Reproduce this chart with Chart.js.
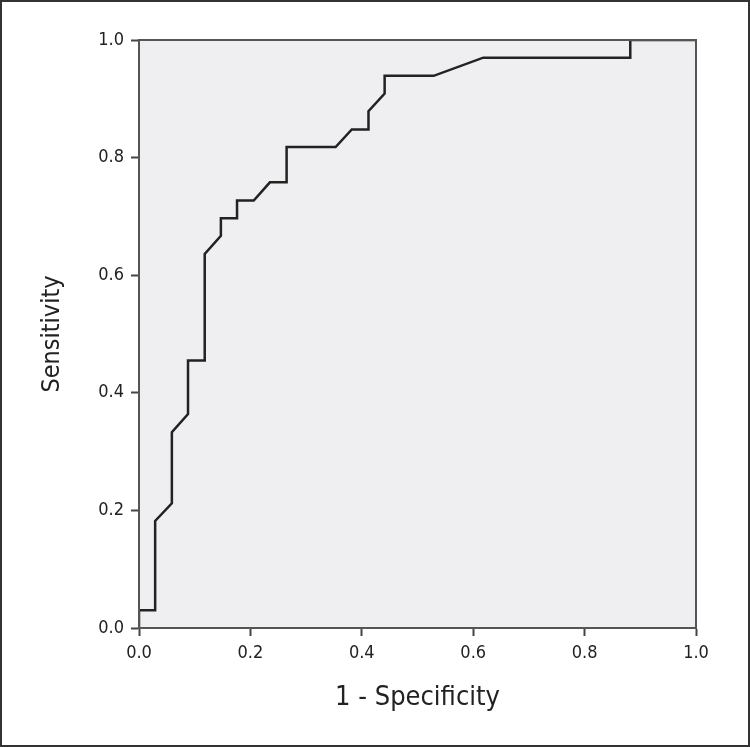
<!DOCTYPE html>
<html>
<head>
<meta charset="utf-8">
<script src="https://cdn.jsdelivr.net/npm/chart.js@4"></script>
<style>
  html, body { margin: 0; padding: 0; background: #fff; }
  #wrap { width: 750px; height: 747px; position: relative; }
</style>
</head>
<body>
<div id="wrap"><canvas id="myChart" width="750" height="747"></canvas></div>
<script>
// ROC curve (1 - specificity, sensitivity)
var fpr = [0, 0, 0.029, 0.029, 0.059, 0.059, 0.088, 0.088, 0.118, 0.118, 0.147, 0.147, 0.176, 0.176, 0.206, 0.235, 0.265, 0.265, 0.353, 0.382, 0.412, 0.412, 0.441, 0.441, 0.529, 0.618, 0.882, 0.882, 1.0];
var sens = [0, 0.030, 0.030, 0.182, 0.212, 0.333, 0.364, 0.455, 0.455, 0.636, 0.667, 0.697, 0.697, 0.727, 0.727, 0.758, 0.758, 0.818, 0.818, 0.848, 0.848, 0.879, 0.909, 0.939, 0.939, 0.970, 0.970, 1.0, 1.0];
var tickVals = [0, 0.2, 0.4, 0.6, 0.8, 1.0];

var fontFam = "'Liberation Sans Narrow', 'DejaVu Sans Condensed', 'Roboto', sans-serif";

var puntos = [];
for (let i = 0; i < fpr.length; i++) {
    puntos.push({ x: fpr[i], y: sens[i] });
}

var fondo = {
    id: 'fondo',
    beforeDraw: function (chart) {
        var ctx = chart.ctx;
        var a = chart.chartArea;
        ctx.save();
        ctx.fillStyle = '#ffffff';
        ctx.fillRect(0, 0, chart.width, chart.height);
        ctx.fillStyle = '#efeff1';
        ctx.fillRect(a.left, a.top, a.right - a.left, a.bottom - a.top);
        ctx.restore();
    },
    afterDraw: function (chart) {
        var ctx = chart.ctx;
        var a = chart.chartArea;
        ctx.save();
        ctx.strokeStyle = '#555';
        ctx.lineWidth = 2;
        ctx.strokeRect(a.left, a.top, a.right - a.left, a.bottom - a.top);
        ctx.strokeStyle = '#333';
        ctx.lineWidth = 2;
        ctx.strokeRect(1, 1, chart.width - 2, chart.height - 2);
        ctx.restore();
    }
};

var ctx = document.getElementById('myChart').getContext('2d');
var myChart = new Chart(ctx, {
    type: 'scatter',
    data: {
        datasets: [{
            data: puntos,
            showLine: true,
            borderColor: '#222222',
            borderWidth: 2.5,
            pointRadius: 0,
            tension: 0,
            fill: false
        }]
    },
    options: {
        responsive: false,
        animation: false,
        layout: { padding: { left: 0, top: 40, right: 54, bottom: 0 } },
        plugins: { legend: { display: false }, tooltip: { enabled: false } },
        scales: {
            x: {
                type: 'linear', min: 0, max: 1,
                afterBuildTicks: function (s) { s.ticks = tickVals.map(function (v) { return { value: v }; }); },
                afterFit: function (s) { s.height = 119; },
                ticks: {
                    callback: function (v) { return v.toFixed(1); },
                    color: '#222', font: { family: fontFam, size: 18 }, padding: 7
                },
                grid: { drawOnChartArea: false, tickLength: 8, tickColor: '#444', tickWidth: 2 },
                border: { color: '#555', width: 2 },
                title: {
                    display: true, text: '1 - Specificity', color: '#222',
                    font: { family: fontFam, size: 27 }, padding: { top: 0, bottom: 33 }
                }
            },
            y: {
                type: 'linear', min: 0, max: 1,
                afterBuildTicks: function (s) { s.ticks = tickVals.map(function (v) { return { value: v }; }); },
                afterFit: function (s) { s.width = 139; },
                ticks: {
                    callback: function (v) { return v.toFixed(1); },
                    color: '#222', font: { family: fontFam, size: 18 }, padding: 7
                },
                grid: { drawOnChartArea: false, tickLength: 8, tickColor: '#444', tickWidth: 2 },
                border: { color: '#555', width: 2 },
                title: {
                    display: true, text: 'Sensitivity', color: '#222',
                    font: { family: fontFam, size: 25 }, padding: { top: 37, bottom: 0 }
                }
            }
        }
    },
    plugins: [fondo]
});
</script>
</body>
</html>
